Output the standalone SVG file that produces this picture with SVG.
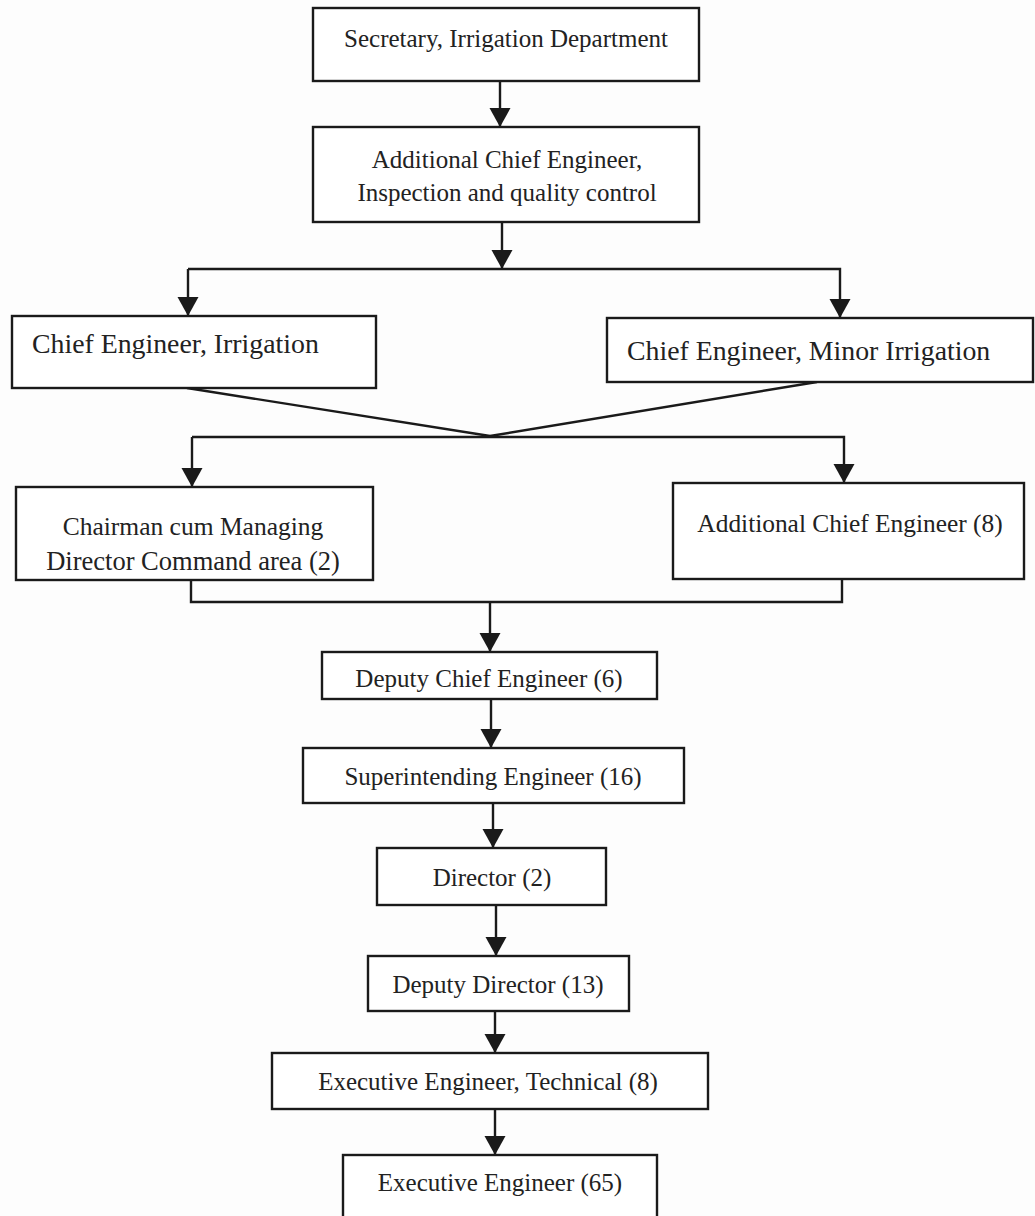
<svg xmlns="http://www.w3.org/2000/svg" width="1035" height="1216" viewBox="0 0 1035 1216">
<style>
  .box { fill: #ffffff; stroke: #1a1a1a; stroke-width: 2.4; }
  .t { font-family: "Liberation Serif", "Times New Roman", serif; font-size: 25px; fill: #222; text-anchor: middle; }
  .ts { text-anchor: start; }
  .big { font-size: 27.8px; }
  .conn { fill: none; stroke: #1a1a1a; stroke-width: 2.4; }
</style>
<defs>
  <marker id="ah" markerUnits="userSpaceOnUse" markerWidth="22" markerHeight="22" refX="19" refY="10.5" orient="auto">
    <path d="M0,0 L19,10.5 L0,21 Z" fill="#1a1a1a"/>
  </marker>
</defs>
<rect width="1035" height="1216" fill="#fdfdfd"/>

<g id="connectors">
  <line class="conn" x1="500" y1="81" x2="500" y2="127" marker-end="url(#ah)"/>
  <line class="conn" x1="502" y1="222" x2="502" y2="269" marker-end="url(#ah)"/>
  <polyline class="conn" points="188,269 840,269 840,318" marker-end="url(#ah)"/>
  <line class="conn" x1="188" y1="269" x2="188" y2="316" marker-end="url(#ah)"/>
  <line class="conn" x1="187" y1="388" x2="490" y2="436"/>
  <line class="conn" x1="817" y1="382" x2="490" y2="436"/>
  <polyline class="conn" points="192,437 844,437 844,483" marker-end="url(#ah)"/>
  <line class="conn" x1="192" y1="437" x2="192" y2="487" marker-end="url(#ah)"/>
  <polyline class="conn" points="191,580 191,602 842,602 842,579"/>
  <line class="conn" x1="490" y1="602" x2="490" y2="652" marker-end="url(#ah)"/>
  <line class="conn" x1="491" y1="699" x2="491" y2="748" marker-end="url(#ah)"/>
  <line class="conn" x1="493" y1="803" x2="493" y2="848" marker-end="url(#ah)"/>
  <line class="conn" x1="496" y1="905" x2="496" y2="956" marker-end="url(#ah)"/>
  <line class="conn" x1="495" y1="1011" x2="495" y2="1053" marker-end="url(#ah)"/>
  <line class="conn" x1="495" y1="1109" x2="495" y2="1155" marker-end="url(#ah)"/>
</g>

<g id="secretary">
  <rect class="box" x="313" y="8" width="386" height="73"/>
  <text class="t" x="506" y="47">Secretary, Irrigation Department</text>
</g>
<g id="addl-chief-inspection">
  <rect class="box" x="313" y="127" width="386" height="95"/>
  <text class="t" x="507" y="168">Additional Chief Engineer,</text>
  <text class="t" x="507" y="201">Inspection and quality control</text>
</g>
<g id="chief-irrigation">
  <rect class="box" x="12" y="316" width="364" height="72"/>
  <text class="t ts big" x="32" y="353">Chief Engineer, Irrigation</text>
</g>
<g id="chief-minor-irrigation">
  <rect class="box" x="607" y="318" width="426" height="64"/>
  <text class="t ts big" x="627" y="360">Chief Engineer, Minor Irrigation</text>
</g>
<g id="chairman">
  <rect class="box" x="16" y="487" width="357" height="93"/>
  <text class="t" x="193" y="535" style="font-size:25.5px">Chairman cum Managing</text>
  <text class="t" x="193" y="570" style="font-size:26.5px">Director Command area (2)</text>
</g>
<g id="addl-chief-8">
  <rect class="box" x="673" y="483" width="351" height="96"/>
  <text class="t" x="850" y="532" style="font-size:25.4px">Additional Chief Engineer (8)</text>
</g>
<g id="deputy-chief">
  <rect class="box" x="322" y="652" width="335" height="47"/>
  <text class="t" x="489" y="687">Deputy Chief Engineer (6)</text>
</g>
<g id="superintending">
  <rect class="box" x="303" y="748" width="381" height="55"/>
  <text class="t" x="493" y="785">Superintending Engineer (16)</text>
</g>
<g id="director">
  <rect class="box" x="377" y="848" width="229" height="57"/>
  <text class="t" x="492" y="886">Director (2)</text>
</g>
<g id="deputy-director">
  <rect class="box" x="368" y="956" width="261" height="55"/>
  <text class="t" x="498" y="993">Deputy Director (13)</text>
</g>
<g id="exec-technical">
  <rect class="box" x="272" y="1053" width="436" height="56"/>
  <text class="t" x="488" y="1090">Executive Engineer, Technical (8)</text>
</g>
<g id="exec-engineer">
  <rect class="box" x="343" y="1155" width="314" height="80"/>
  <text class="t" x="500" y="1191">Executive Engineer (65)</text>
</g>
</svg>
